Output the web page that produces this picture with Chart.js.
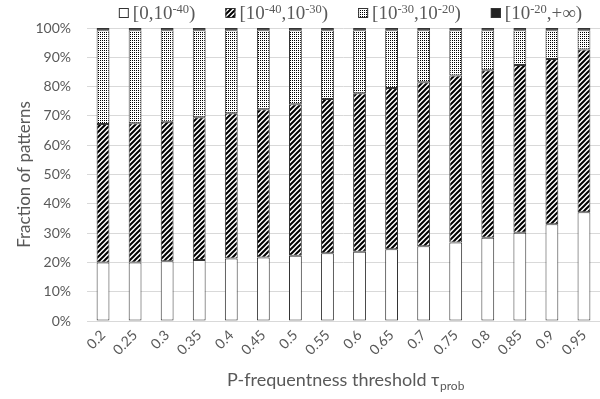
<!DOCTYPE html>
<html>
<head>
<meta charset="utf-8">
<script src="https://cdn.jsdelivr.net/npm/chart.js@4/dist/chart.umd.min.js"></script>
<style>
  html, body { margin: 0; padding: 0; background: #ffffff; }
  #wrap { width: 600px; height: 399px; }
</style>
</head>
<body>
<div id="wrap"><canvas id="chart" width="600" height="399"></canvas></div>
<script>
// P-frequentness thresholds on the x axis
const thresholds = ['0.2', '0.25', '0.3', '0.35', '0.4', '0.45', '0.5', '0.55',
                    '0.6', '0.65', '0.7', '0.75', '0.8', '0.85', '0.9', '0.95'];

// Share of patterns (%) in each probability range, per threshold
const rangeBelow40 = [20.0, 20.0, 20.4, 20.8, 21.3, 21.7, 22.3, 23.1,
                      23.6, 24.5, 25.5, 26.8, 28.4, 30.1, 33.0, 37.1];
const range40to30  = [47.2, 47.5, 47.6, 48.7, 49.6, 50.6, 51.7, 52.7,
                      54.1, 55.0, 56.0, 57.0, 57.2, 57.3, 56.4, 55.6];
const range30to20  = [32.0, 31.7, 31.2, 29.7, 28.3, 26.9, 25.2, 23.4,
                      21.5, 19.7, 17.7, 15.4, 13.6, 11.8, 9.8, 6.5];
const rangeAbove20 = [0.8, 0.8, 0.8, 0.8, 0.8, 0.8, 0.8, 0.8,
                      0.8, 0.8, 0.8, 0.8, 0.8, 0.8, 0.8, 0.8];

// Legend texts as [text, isSuperscript] runs
const rangeLabels = [
  [['[0,10', false], ['-40', true], [')', false]],
  [['[10', false], ['-40', true], [',10', false], ['-30', true], [')', false]],
  [['[10', false], ['-30', true], [',10', false], ['-20', true], [')', false]],
  [['[10', false], ['-20', true], [',+\u221E)', false]]
];

const percentTicks = [0, 10, 20, 30, 40, 50, 60, 70, 80, 90, 100];

const textGray = '#595959';
const edge = '#333333';

// Diagonal "/" stripe fill
function stripeFill() {
  const s = 5;
  const c = document.createElement('canvas');
  c.width = s; c.height = s;
  const g = c.getContext('2d');
  g.fillStyle = '#ffffff';
  g.fillRect(0, 0, s, s);
  g.strokeStyle = '#000000';
  g.lineWidth = 2;
  g.beginPath();
  g.moveTo(-1, 1); g.lineTo(1, -1);
  g.moveTo(0, s); g.lineTo(s, 0);
  g.moveTo(s - 1, s + 1); g.lineTo(s + 1, s - 1);
  g.stroke();
  return g.createPattern(c, 'repeat');
}

// Fine dotted fill
function dotFill() {
  const c = document.createElement('canvas');
  c.width = 2; c.height = 2;
  const g = c.getContext('2d');
  g.fillStyle = '#ffffff';
  g.fillRect(0, 0, 2, 2);
  g.fillStyle = '#000000';
  g.fillRect(0, 0, 1, 1);
  return g.createPattern(c, 'repeat');
}

const fills = ['#ffffff', stripeFill(), dotFill(), '#222222'];

const legendFont = '19px "Liberation Serif"';
const legendSupFont = '12.5px "Liberation Serif"';

function runsWidth(ctx, runs) {
  let w = 0;
  for (const [t, sup] of runs) {
    ctx.font = sup ? legendSupFont : legendFont;
    w += ctx.measureText(t).width;
  }
  return w;
}

// Legend row with superscript exponents
const rangeLegend = {
  id: 'rangeLegend',
  afterDraw(chart) {
    const { ctx, chartArea } = chart;
    const box = 10, boxGap = 4, itemGap = 30;
    const widths = rangeLabels.map(r => box + boxGap + runsWidth(ctx, r));
    const total = widths.reduce((a, b) => a + b, 0) + itemGap * (widths.length - 1);
    let x = (chartArea.left + chartArea.right) / 2 + 7 - total / 2;
    const base = 19;
    ctx.save();
    ctx.textBaseline = 'alphabetic';
    ctx.textAlign = 'left';
    rangeLabels.forEach((runs, i) => {
      ctx.fillStyle = fills[i];
      ctx.fillRect(x, base - 11, box, box);
      ctx.strokeStyle = edge;
      ctx.lineWidth = 1;
      ctx.strokeRect(x + 0.5, base - 10.5, box - 1, box - 1);
      let tx = x + box + boxGap;
      ctx.fillStyle = textGray;
      for (const [t, sup] of runs) {
        ctx.font = sup ? legendSupFont : legendFont;
        ctx.fillText(t, tx, sup ? base - 6 : base);
        tx += ctx.measureText(t).width;
      }
      x += widths[i] + itemGap;
    });
    ctx.restore();
  }
};

// x-axis title with a subscript
const thresholdTitle = {
  id: 'thresholdTitle',
  afterDraw(chart) {
    const { ctx, chartArea } = chart;
    const main = 'P-frequentness threshold \u03C4';
    const sub = 'prob';
    ctx.save();
    ctx.fillStyle = textGray;
    ctx.textBaseline = 'alphabetic';
    ctx.textAlign = 'left';
    ctx.font = '18px Lato';
    const w1 = ctx.measureText(main).width;
    ctx.font = '12px Lato';
    const w2 = ctx.measureText(sub).width;
    const x0 = (chartArea.left + chartArea.right) / 2 + 2 - (w1 + w2) / 2;
    const y = chart.height - 13;
    ctx.font = '18px Lato';
    ctx.fillText(main, x0, y);
    ctx.font = '12px Lato';
    ctx.fillText(sub, x0 + w1 + 0.5, y + 4);
    ctx.restore();
  }
};

const common = { borderColor: edge, borderWidth: 1, borderSkipped: false,
                 categoryPercentage: 1.0, barPercentage: 0.4 };

new Chart(document.getElementById('chart'), {
  type: 'bar',
  data: {
    labels: thresholds,
    datasets: [
      { label: '[0,1e-40)', data: rangeBelow40, backgroundColor: fills[0], ...common },
      { label: '[1e-40,1e-30)', data: range40to30, backgroundColor: fills[1], ...common },
      { label: '[1e-30,1e-20)', data: range30to20, backgroundColor: fills[2], ...common },
      { label: '[1e-20,+inf)', data: rangeAbove20, backgroundColor: fills[3], ...common }
    ]
  },
  options: {
    responsive: false,
    devicePixelRatio: 1,
    animation: false,
    layout: { padding: { left: 12, right: 0, top: 28, bottom: 0 } },
    plugins: {
      tooltip: { enabled: false },
      legend: { display: false }
    },
    scales: {
      x: {
        stacked: true,
        grid: { display: false, drawTicks: false },
        border: { color: '#d9d9d9' },
        afterFit(scale) { scale.height = 78; scale.paddingRight = 0; scale.paddingLeft = 0; },
        ticks: {
          color: textGray,
          font: { family: 'Lato', size: 14 },
          minRotation: 45,
          maxRotation: 45,
          padding: 6
        }
      },
      y: {
        stacked: true,
        min: 0,
        max: 100,
        afterBuildTicks(scale) { scale.ticks = percentTicks.map(v => ({ value: v })); },
        afterFit(scale) { scale.width = 75; },
        grid: { color: '#d9d9d9', drawTicks: false },
        border: { display: false },
        ticks: {
          color: textGray,
          font: { family: 'Lato', size: 14 },
          padding: 16,
          callback: v => v + '%'
        },
        title: {
          display: true,
          text: 'Fraction of patterns',
          color: textGray,
          font: { family: 'Lato', size: 17 },
          padding: { top: 2, bottom: 4 }
        }
      }
    }
  },
  plugins: [rangeLegend, thresholdTitle]
});
</script>
</body>
</html>
